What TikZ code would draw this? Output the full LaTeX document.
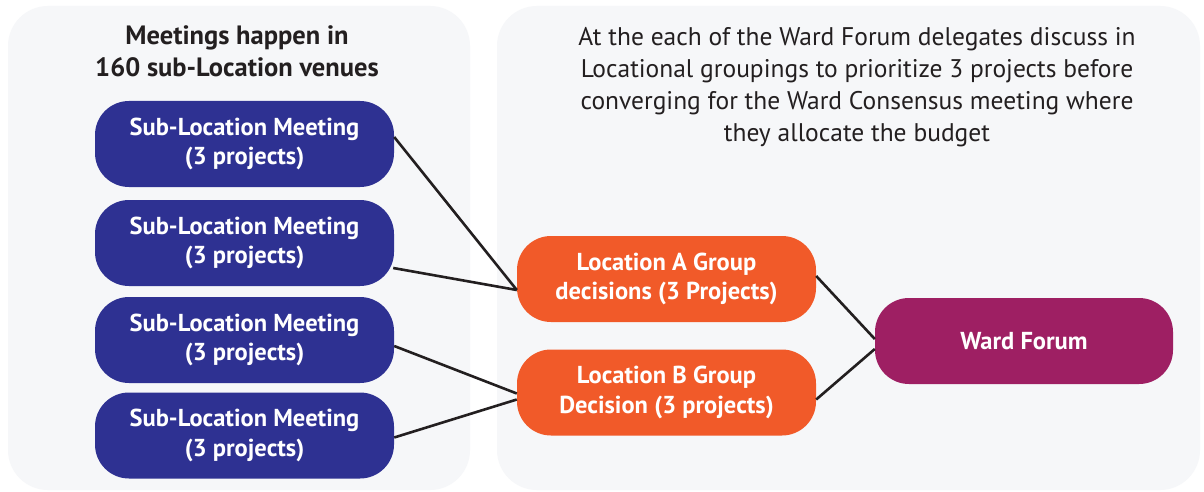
\documentclass[tikz,border=0pt]{standalone}
\usepackage{fontspec}
\setmainfont{PT Sans}
\definecolor{panel}{HTML}{F6F7F9}
\definecolor{subblue}{HTML}{2E3192}
\definecolor{locorange}{HTML}{F15A29}
\definecolor{wardmag}{HTML}{9E1F63}
\definecolor{txt}{HTML}{231F20}
\definecolor{linec}{HTML}{231F20}
\tikzset{
  panelbox/.style={fill=panel, draw=none, rounded corners=40pt},
  pill/.style={draw=none, rounded corners=34pt, minimum width=299pt, minimum height=86pt, text=white, align=center, font=\bfseries\fontsize{24.5}{29.5}\selectfont, inner sep=0pt},
  subbox/.style={pill, fill=subblue},
  locbox/.style={pill, fill=locorange},
  wardbox/.style={pill, fill=wardmag, minimum width=298pt},
  conn/.style={draw=linec, line width=2.6pt},
  heading/.style={text=txt, align=center, inner sep=0pt}
}
\begin{document}
\begin{tikzpicture}[x=1pt,y=-1pt]
\useasboundingbox (0,0) rectangle (1204,492);
\fill[white] (0,0) rectangle (1204,492);
\path[panelbox] (8,6) rectangle (470,490);
\path[panelbox] (497,6) rectangle (1200,490);
\node[heading, font=\bfseries\fontsize{26.5}{32}\selectfont] (title) at (237,51) {Meetings happen in\\160 sub-Location venues};
\node[heading, font=\fontsize{25.5}{32}\selectfont] (desc) at (857,87) {At the each of the Ward Forum delegates discuss in\\Locational groupings to prioritize 3 projects before\\converging for the Ward Consensus meeting where\\they allocate the budget};
\node[subbox] (s1) at (244.5,144) {Sub-Location Meeting\\(3 projects)};
\node[subbox] (s2) at (244.5,243) {Sub-Location Meeting\\(3 projects)};
\node[subbox] (s3) at (244.5,340) {Sub-Location Meeting\\(3 projects)};
\node[subbox] (s4) at (244.5,435.5) {Sub-Location Meeting\\(3 projects)};
\node[locbox] (la) at (666.5,279) {Location A Group\\decisions (3 Projects)};
\node[locbox] (lb) at (666.5,392.5) {Location B Group\\Decision (3 projects)};
\node[wardbox] (wf) at (1024,341) {Ward Forum};
\draw[conn] ([yshift=7pt]s1.east) -- ([yshift=-11pt]la.west);
\draw[conn] ([yshift=-25pt,xshift=-1pt]s2.east) -- ([yshift=-11pt]la.west);
\draw[conn] ([yshift=-6pt]s3.east) -- ([yshift=-1pt]lb.west);
\draw[conn] ([yshift=-2pt]s4.east) -- ([yshift=-7pt]lb.west);
\draw[conn] ([yshift=3pt]la.east) -- ([yshift=2pt]wf.west);
\draw[conn] ([yshift=-7pt]lb.east) -- ([yshift=-8pt]wf.west);
\end{tikzpicture}
\end{document}
